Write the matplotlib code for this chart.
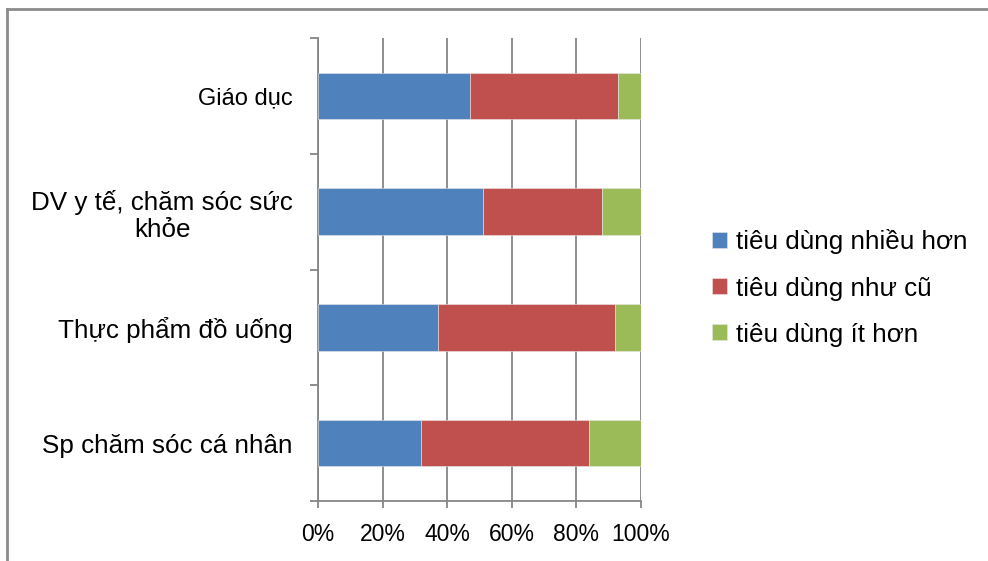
import matplotlib.pyplot as plt
from matplotlib.ticker import FixedLocator, PercentFormatter

plt.rcParams['font.family'] = ['Liberation Sans', 'DejaVu Sans']

categories = ['Giáo dục', 'DV y tế, chăm sóc sức\nkhỏe', 'Thực phẩm đồ uống', 'Sp chăm sóc cá nhân']
more = [47, 51, 37, 32]
same = [46, 37, 55, 52]
less = [7, 12, 8, 16]
series_names = ['tiêu dùng nhiều hơn', 'tiêu dùng như cũ', 'tiêu dùng ít hơn']
colors = ['#4F81BD', '#C0504D', '#9BBB59']
grid_color = '#868686'

fig = plt.figure(figsize=(9.88, 5.61), dpi=100)
ax = fig.add_axes([318 / 988, 1 - 501 / 561, 323 / 988, 463 / 561])

# outer chart frame (only top and left edges visible)
fig.lines.append(plt.Line2D([7 / 988, 1], [1 - 9 / 561, 1 - 9 / 561], transform=fig.transFigure,
                            color='#8c8c8c', lw=2))
fig.lines.append(plt.Line2D([7 / 988, 7 / 988], [0, 1 - 9 / 561], transform=fig.transFigure,
                            color='#8c8c8c', lw=2))

y = list(range(len(categories)))
left = [0] * len(categories)
for vals, name, c in zip([more, same, less], series_names, colors):
    ax.barh(y, vals, left=left, height=0.4, color=c, label=name,
            edgecolor='#e8e8e8', linewidth=0.4, zorder=3)
    left = [a + b for a, b in zip(left, vals)]

ax.set_xlim(0, 100)
ax.set_ylim(3.5, -0.5)
ax.set_xticks([0, 20, 40, 60, 80, 100])
ax.xaxis.set_major_formatter(PercentFormatter(decimals=0))
ax.grid(axis='x', color=grid_color, lw=1.3, zorder=0)
ax.set_axisbelow(True)

ax.set_yticks(y)
ax.set_yticklabels(categories, ha='right', multialignment='center')
ax.yaxis.set_minor_locator(FixedLocator([-0.5, 0.5, 1.5, 2.5, 3.5]))
ax.tick_params(axis='y', which='major', length=0, pad=18, labelsize=18.7)
ax.tick_params(axis='y', which='minor', length=6, width=1.3, color=grid_color, direction='out')
ax.tick_params(axis='x', length=5, width=1.3, color=grid_color, labelsize=16.5, pad=11)
ax.get_yticklabels()[0].set_fontsize(17)

for side in ['top', 'right']:
    ax.spines[side].set_visible(False)
for side in ['left', 'bottom']:
    ax.spines[side].set_color(grid_color)
    ax.spines[side].set_linewidth(1.3)

fig.legend(loc='center left', bbox_to_anchor=(712 / 988, 1 - 288 / 561), frameon=False,
           fontsize=18.7, handlelength=0.58, handleheight=0.58, handletextpad=0.35,
           labelspacing=0.85, borderpad=0, borderaxespad=0)

fig.savefig('out.png', dpi=100)
